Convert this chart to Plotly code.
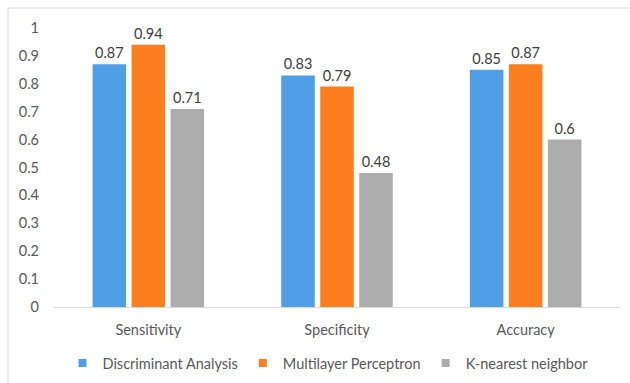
import plotly.graph_objects as go

categories = ["Sensitivity", "Specificity", "Accuracy"]
series_names = ["Discriminant Analysis", "Multilayer Perceptron", "K-nearest neighbor"]
da_values = [0.87, 0.83, 0.85]
mlp_values = [0.94, 0.79, 0.87]
knn_values = [0.71, 0.48, 0.6]
y_ticks = [0, 0.1, 0.2, 0.3, 0.4, 0.5, 0.6, 0.7, 0.8, 0.9, 1]
y_tick_labels = ["0", "0.1", "0.2", "0.3", "0.4", "0.5", "0.6", "0.7", "0.8", "0.9", "1"]

colors = ["#4f9fe6", "#fd7e1e", "#adadad"]
FONT = "Lato"
FS = 14.5

fig = go.Figure()
for name, vals, c in zip(series_names, [da_values, mlp_values, knn_values], colors):
    fig.add_trace(go.Bar(
        x=categories, y=vals, name=name, marker_color=c, marker_line_width=0,
        text=[f"{v:g}" for v in vals], textposition="outside",
        textfont=dict(family=FONT, size=FS, color="#404040"),
        cliponaxis=False, showlegend=False,
    ))
    fig.add_trace(go.Scatter(
        x=[None], y=[None], mode="markers", name=name,
        marker=dict(symbol="square", size=8, color=c), showlegend=True,
    ))

W, H = 630, 383
ml, mr, mt, mb = 54, 10, 28, 76
pw, ph = W - ml - mr, H - mt - mb

def px(x):
    return (x - ml) / pw

def py(y):
    return (H - mb - y) / ph

fig.update_layout(
    width=W, height=H,
    margin=dict(l=ml, r=mr, t=mt, b=mb, autoexpand=False),
    paper_bgcolor="white", plot_bgcolor="white",
    barmode="group", bargap=0.38, bargroupgap=0.14,
    font=dict(family=FONT, size=FS, color="#595959"),
    xaxis=dict(showgrid=False, showline=True, linecolor="#d9d9d9", linewidth=1,
               ticks="", ticklabelstandoff=10,
               tickfont=dict(family=FONT, size=FS, color="#595959")),
    yaxis=dict(range=[0, 1], tickvals=y_ticks, ticktext=y_tick_labels,
               showgrid=False, zeroline=False, showline=False, ticks="",
               ticklabelstandoff=14,
               tickfont=dict(family=FONT, size=FS, color="#595959")),
    legend=dict(orientation="h", x=px(328), xanchor="center", y=py(363), yanchor="middle",
                font=dict(family=FONT, size=FS, color="#595959"),
                itemwidth=30, tracegroupgap=0,
                bgcolor="rgba(0,0,0,0)"),
    shapes=[
        dict(type="line", xref="paper", yref="paper", x0=px(8), x1=px(W + 5), y0=py(8), y1=py(8),
             line=dict(color="#d9d9d9", width=1)),
        dict(type="line", xref="paper", yref="paper", x0=px(8), x1=px(8), y0=py(8), y1=py(H + 5),
             line=dict(color="#d9d9d9", width=1)),
    ],
)

fig.write_html("out.html")
